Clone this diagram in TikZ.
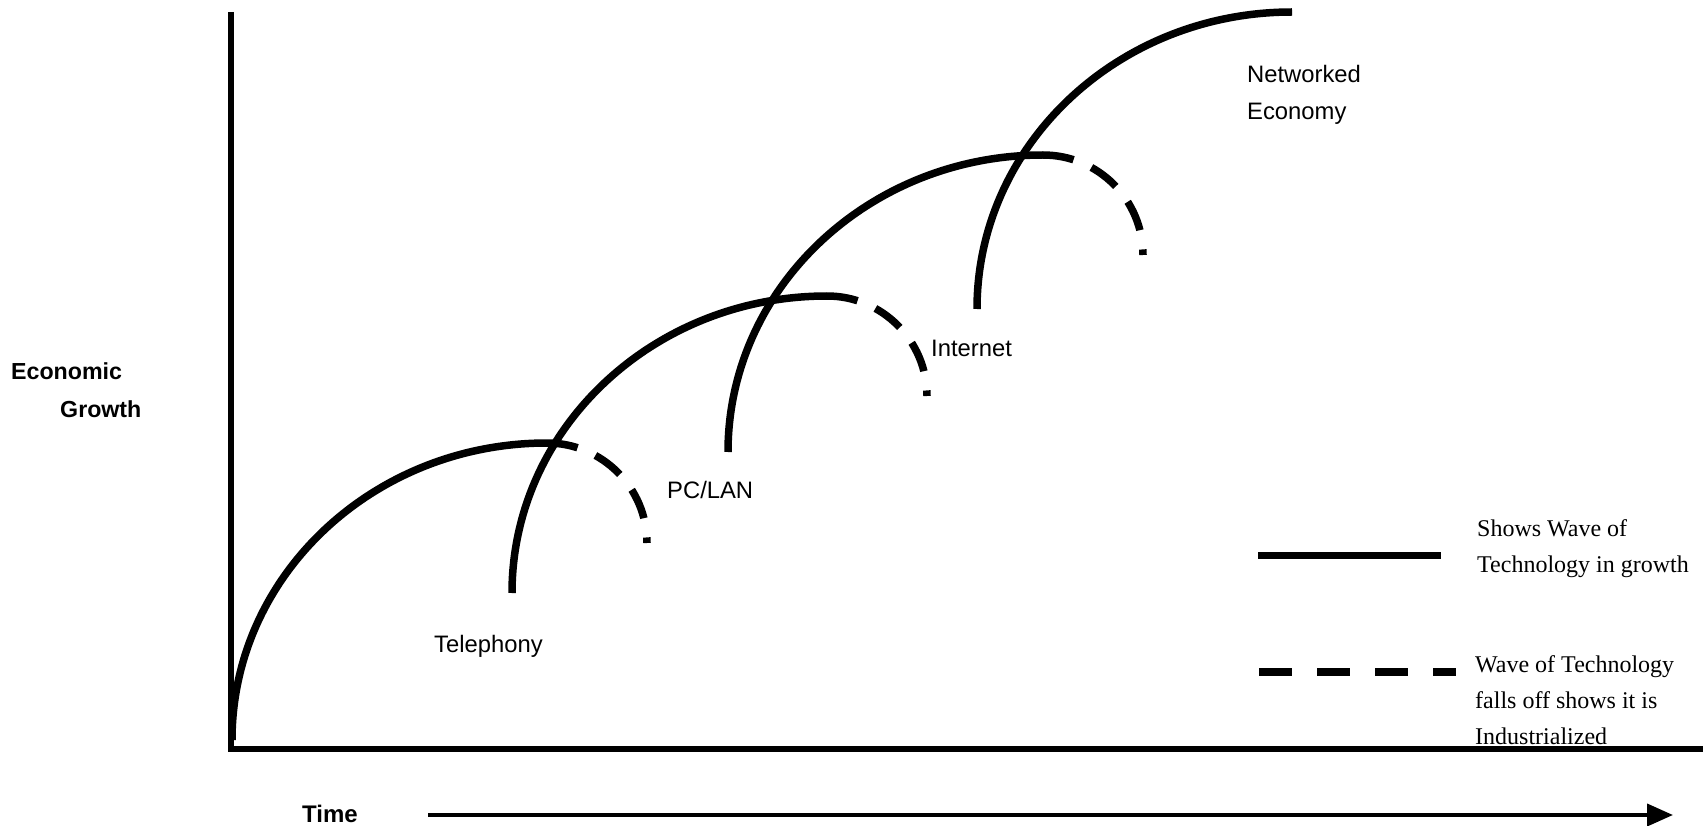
\documentclass[tikz,border=0pt]{standalone}
\usepackage{fontspec}
\setmainfont{Liberation Serif}
\newfontfamily\arialf{Liberation Sans}
\usetikzlibrary{arrows.meta}
\begin{document}
\begin{tikzpicture}[x=1pt,y=-1pt,
  wave/.style={line width=7.5pt, line cap=butt},
  fall/.style={line width=7.5pt, line cap=butt, dash pattern=on 31pt off 19.5pt},
  axisline/.style={line width=5.5pt},
  lbl/.style={anchor=base west, inner sep=0pt, font=\arialf\fontsize{23.8}{28}\selectfont},
  blbl/.style={anchor=base west, inner sep=0pt, font=\arialf\bfseries\fontsize{23.2}{27}\selectfont},
  leg/.style={anchor=base west, inner sep=0pt, font=\fontsize{24}{29}\selectfont},
]
\path[fill=white] (0,0) rectangle (1703,826);
\useasboundingbox (0,0) rectangle (1703,826);

% axes
\coordinate (ytop) at (231,12);
\coordinate (O) at (231,749);
\coordinate (xend) at (1703,749);
\draw[axisline] (ytop) -- (O) -- (xend);

% waves
\coordinate (w1s) at (232,740);
\coordinate (w2s) at (512,593);
\coordinate (w3s) at (728,452);
\coordinate (w4s) at (977,309);
\draw[wave] (w1s) arc[start angle=180, end angle=270, x radius=315, y radius=297] coordinate (w1t);
\draw[fall] (w1t) arc[start angle=270, end angle=360, radius=100];
\draw[wave] (w2s) arc[start angle=180, end angle=270, x radius=315, y radius=297] coordinate (w2t);
\draw[fall] (w2t) arc[start angle=270, end angle=360, radius=100];
\draw[wave] (w3s) arc[start angle=180, end angle=270, x radius=315, y radius=297] coordinate (w3t);
\draw[fall] (w3t) arc[start angle=270, end angle=360, radius=100];
\draw[wave] (w4s) arc[start angle=180, end angle=270, x radius=315, y radius=297] coordinate (w4t);

% wave labels
\node[lbl] (tel) at (434,652) {Telephony};
\node[lbl] (pc) at (667,498) {PC/LAN};
\node[lbl] (inet) at (931,356) {Internet};
\node[lbl] (net1) at (1247,83) {Networked};
\node[lbl] (net2) at (1247,120) {Economy};

% axis labels
\node[blbl] (eg1) at (11,379) {Economic};
\node[blbl] (eg2) at (60,417) {Growth};
\node[anchor=base west, inner sep=0pt, font=\arialf\bfseries\fontsize{24}{28}\selectfont] (time) at (302,822) {Time};
\coordinate (ta) at (428,815);
\coordinate (tb) at (1673,815);
\draw[line width=4pt, -{Triangle[length=26pt,width=22pt]}] (ta) -- (tb);

% legend
\coordinate (l1a) at (1258,555.5);
\coordinate (l1b) at (1441,555.5);
\draw[wave] (l1a) -- (l1b);
\node[leg] (lt1) at (1477,536) {Shows Wave of};
\node[leg] (lt2) at (1477,572.5) {Technology in growth};
\coordinate (l2a) at (1259,672);
\coordinate (l2b) at (1456,672);
\draw[fall, dash pattern=on 33pt off 25pt] (l2a) -- (l2b);
\node[leg] (lt3) at (1475,672) {Wave of Technology};
\node[leg] (lt4) at (1475,708) {falls off shows it is};
\node[leg] (lt5) at (1475,744) {Industrialized};
\end{tikzpicture}
\end{document}
